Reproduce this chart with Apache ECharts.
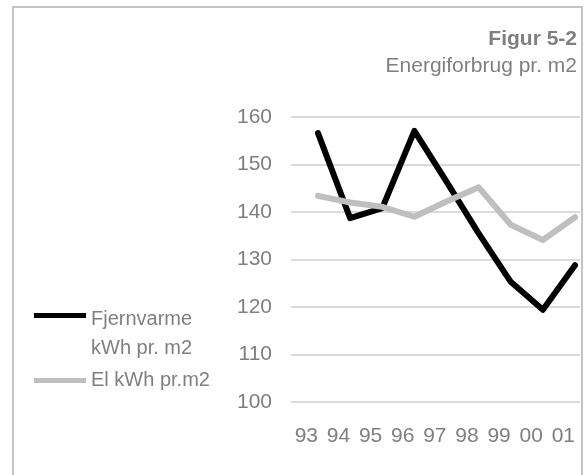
<!DOCTYPE html>
<html>
<head>
<meta charset="utf-8">
<script src="https://cdn.jsdelivr.net/npm/echarts@6/dist/echarts.min.js"></script>
<style>
	html, body { margin:0; padding:0; background:#fff; }
	#chart1 { width:588px; height:475px; }
</style>
</head>
<body>
<div id="chart1"></div>
<script>
var years = ["93","94","95","96","97","98","99","00","01"];
var fjernvarme = [156.6, 138.7, 140.8, 157.1, 146.4, 135.5, 125.3, 119.4, 128.8];
var el = [143.4, 142.0, 141.1, 139.0, 142.2, 145.2, 137.3, 134.1, 138.9];
var yTicks = [100, 110, 120, 130, 140, 150, 160];

var font = "Liberation Sans, Arial, sans-serif";
var grey = "#7f7f7f";

// legend icons: bar sits at top of the box for the two-line entry, centred for the one-line entry
var iconTop = "path://M0,0 L52,0 L52,5 L0,5 Z M0,42 L0,42";
var iconMid = "path://M0,18 L52,18 L52,23 L0,23 Z M0,0 L0,0 M0,41 L0,41";

var myChart = echarts.init(document.getElementById('chart1'));
var option = {
	animation:false,
	textStyle:{ fontFamily:font },
	title:{
		text:"Figur 5-2",
		subtext:"Energiforbrug pr. m2",
		left:572,
		top:24,
		itemGap:6,
		textAlign:"right",
		textStyle:{ fontFamily:font, fontSize:21, fontWeight:"bold", color:grey },
		subtextStyle:{ fontFamily:font, fontSize:21, color:grey }
	},
	legend:{
		orient:"vertical",
		left:34,
		top:305,
		padding:0,
		itemWidth:52,
		itemHeight:42,
		itemGap:-3,
		itemStyle:{ borderWidth:0 },
		textStyle:{ fontFamily:font, fontSize:20, color:grey, width:125, overflow:"break", lineHeight:29 },
		data:[
			{ name:"Fjernvarme kWh pr. m2", icon:iconTop },
			{ name:"El kWh pr.m2", icon:iconMid }
		]
	},
	graphic:[{
		type:"rect",
		shape:{ x:13, y:7, width:569, height:500 },
		style:{ fill:null, stroke:"#c4c4c4", lineWidth:2 },
		silent:true
	}],
	grid:[
		{ left:291, right:8, top:117, bottom:73 },
		{ left:318, right:13, top:117, bottom:73 }
	],
	xAxis:[
		{ gridIndex:0, type:"category", data:years, show:false },
		{
			gridIndex:1, type:"category", data:years, boundaryGap:false,
			axisLine:{ show:false }, axisTick:{ show:false },
			axisLabel:{ fontFamily:font, fontSize:21, color:grey, align:"right", margin:24, interval:0 }
		}
	],
	yAxis:[
		{
			gridIndex:0, type:"value", min:yTicks[0], max:yTicks[yTicks.length-1], interval:10,
			axisLine:{ show:false }, axisTick:{ show:false },
			axisLabel:{ fontFamily:font, fontSize:21, color:grey, margin:19 },
			splitLine:{ lineStyle:{ color:"#cfcfcf", width:1.5 } }
		},
		{
			gridIndex:1, type:"value", min:yTicks[0], max:yTicks[yTicks.length-1], interval:10,
			show:false, splitLine:{ show:false }
		}
	],
	series:[
		{
			name:"Fjernvarme kWh pr. m2", type:"line", xAxisIndex:1, yAxisIndex:1,
			data:fjernvarme, showSymbol:false, symbol:"none",
			itemStyle:{ color:"#000" },
			lineStyle:{ color:"#000", width:6, join:"round", cap:"round" }
		},
		{
			name:"El kWh pr.m2", type:"line", xAxisIndex:1, yAxisIndex:1,
			data:el, showSymbol:false, symbol:"none",
			itemStyle:{ color:"#bfbfbf" },
			lineStyle:{ color:"#bfbfbf", width:6, join:"round", cap:"round" }
		}
	]
};
myChart.setOption(option);
</script>
</body>
</html>
